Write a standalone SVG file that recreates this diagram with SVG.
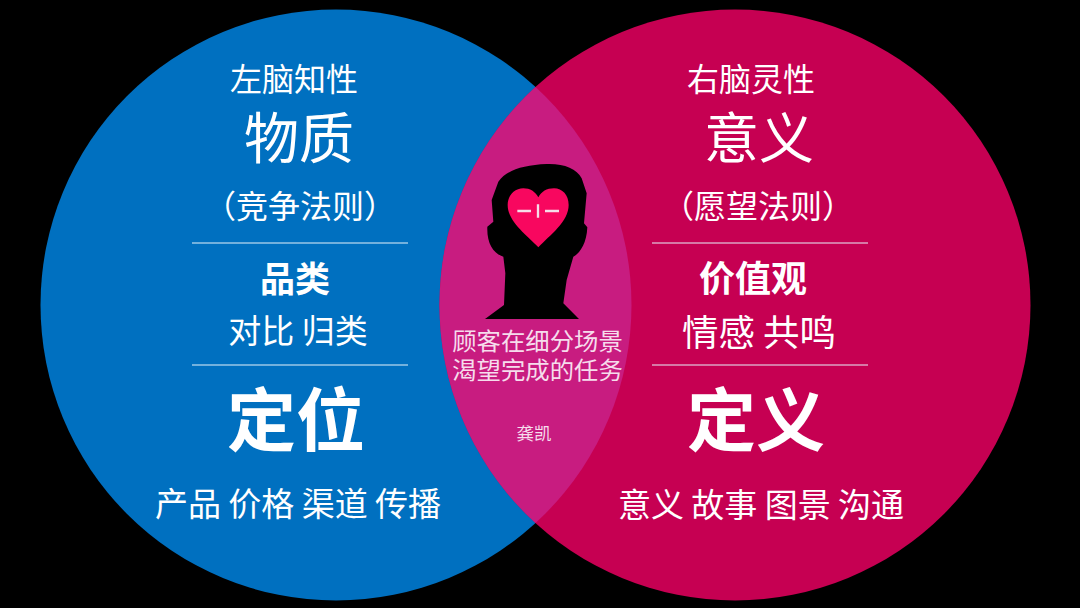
<svg xmlns="http://www.w3.org/2000/svg" width="1080" height="608" viewBox="0 0 1080 608">
<style>
text{font-family:"Noto Sans CJK SC","Noto Sans",sans-serif;fill:#fff;text-anchor:middle}
.l{fill:#f6dcec}
.b{font-weight:700}
.rule{stroke:#e6f2fa;stroke-width:1}
</style>
<defs><clipPath id="lens"><circle cx="336" cy="305" r="295.5"/></clipPath></defs>
<rect width="1080" height="608" fill="#000"/>
<g id="left-circle">
<circle cx="336" cy="305" r="295.5" fill="#0070c0"/>
<text x="294" y="91" font-size="32">左脑知性</text>
<text x="299" y="158" font-size="55">物质</text>
<text x="300" y="218" font-size="32">（竞争法则）</text>
<line class="rule" x1="192" y1="243" x2="408" y2="243"/>
<text x="295" y="292" font-size="35" class="b">品类</text>
<text x="298" y="343" font-size="33">对比 归类</text>
<line class="rule" x1="192" y1="365" x2="408" y2="365"/>
<text x="296" y="446" font-size="69" class="b">定位</text>
<text x="298" y="516" font-size="33">产品 价格 渠道 传播</text>
</g>
<g id="right-circle">
<circle cx="735" cy="305" r="295.5" fill="#c60052"/>
<text x="751" y="91" font-size="32">右脑灵性</text>
<text x="759" y="158" font-size="55">意义</text>
<text x="758" y="218" font-size="32">（愿望法则）</text>
<line class="rule" x1="652" y1="243" x2="868" y2="243"/>
<text x="753" y="292" font-size="36" class="b">价值观</text>
<text x="759" y="346" font-size="36.5">情感 共鸣</text>
<line class="rule" x1="652" y1="365" x2="868" y2="365"/>
<text x="756" y="446" font-size="69" class="b">定义</text>
<text x="761" y="517" font-size="33">意义 故事 图景 沟通</text>
</g>
<g id="overlap">
<circle cx="735" cy="305" r="295.5" fill="#c81c80" clip-path="url(#lens)"/>
<g transform="translate(430 140) scale(.33333)">
<path fill="#000" d="M165 537L222 495L226 400L220 350C190 340 170 310 172 260L190 245L185 180L205 125C230 90 280 75 350 72C400 70 440 85 455 115L470 160L462 250L472 262C470 310 450 340 430 350L410 420L400 490L447 537Z"/>
<path fill="#f8075f" d="M325 322C290 285 233 245 233 195C233 165 255 145 280 145C300 145 316 155 325 172C334 155 350 145 372 145C397 145 416 165 416 195C416 245 360 285 325 322Z"/>
<path fill="none" stroke="#f6dce8" stroke-width="7" d="M262 213H303M345 213H387M324 193V233"/>
</g>
<text x="537.500" y="350" font-size="24.400" class="l">顾客在细分场景</text>
<text x="537.500" y="379" font-size="24.400" class="l">渴望完成的任务</text>
<text x="534" y="440" font-size="17.500" class="l">龚凯</text>
</g>
</svg>
